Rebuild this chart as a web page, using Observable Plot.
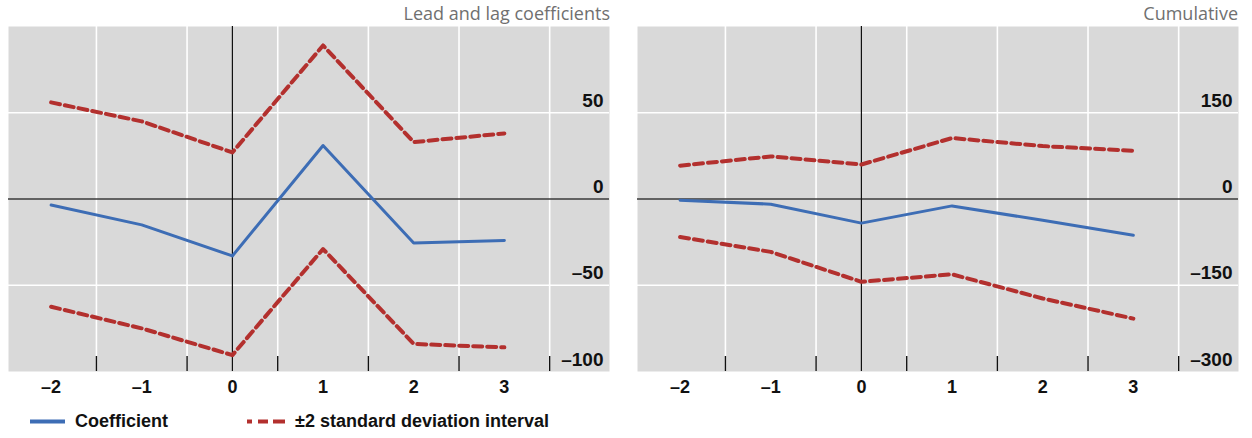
<!DOCTYPE html>
<html><head><meta charset="utf-8">
<script src="https://cdn.jsdelivr.net/npm/d3@7"></script>
<script src="https://cdn.jsdelivr.net/npm/@observablehq/plot@0.6"></script>
<style>
body{margin:0;background:#fff;}
#wrap{position:relative;width:1252px;height:438px;overflow:hidden;font-family:"Liberation Sans",Arial,sans-serif;}
.title{position:absolute;top:4px;font-family:"Open Sans",sans-serif;font-size:18px;line-height:18px;color:#707070;white-space:nowrap;}
.leg{position:absolute;top:412px;font-size:18px;line-height:18px;font-weight:bold;color:#111;white-space:nowrap;}
.panel{position:absolute;top:0;}
</style></head>
<body><div id="wrap">
<div class="title" style="right:642px">Lead and lag coefficients</div>
<div class="title" style="right:14px">Cumulative</div>
<div id="left" class="panel" style="left:0"></div>
<div id="right" class="panel" style="left:620px"></div>
<svg style="position:absolute;left:0;top:410px" width="300" height="24">
  <line x1="30" x2="65" y1="11.5" y2="11.5" stroke="#3d6db5" stroke-width="4"/>
  <line x1="247" x2="285" y1="11.5" y2="11.5" stroke="#b3302e" stroke-width="4" stroke-dasharray="5 6 10 5 12"/>
</svg>
<div class="leg" style="left:75px">Coefficient</div>
<div class="leg" style="left:295px">±2 standard deviation interval</div>
</div>
<script>
const lags = [-2, -1, 0, 1, 2, 3];
const leadLagCoef  = [-3.5, -15, -33, 31, -25.5, -24];
const leadLagUpper = [56, 45, 27, 89, 33, 38];
const leadLagLower = [-62.5, -75, -90.5, -29, -84, -86];
const cumCoef  = [-2, -9, -42, -12, -37, -63];
const cumUpper = [58, 74, 60, 106, 92, 84];
const cumLower = [-66, -92, -144, -131, -173, -208];
const xTicks = [-2, -1, 0, 1, 2, 3];
const xGrid = [-1.5, -0.5, 0.5, 1.5, 2.5, 3.5];
const leftYTicks = [50, 0, -50, -100];
const rightYTicks = [150, 0, -150, -300];
const leftYGrid = [50, -50];
const rightYGrid = [150, -150];
const leftYDomain = [-100, 100];
const rightYDomain = [-300, 300];
const xDomain = [-2.47, 4.16];

const BLUE = "#3d6db5", RED = "#b3302e";
const fmt = d => d < 0 ? "\u2013" + Math.abs(d) : String(d);
const rows = (vals) => lags.map((x, i) => ({x, y: vals[i]}));

function panel({coef, upper, lower, yDomain, yTicks, yGrid, marginLeft, marginRight, width}) {
  const plotH = 345;
  return Plot.plot({
    width, height: 401,
    marginLeft, marginRight, marginTop: 26, marginBottom: 30,
    style: {fontFamily: "'Liberation Sans', Arial, sans-serif", background: "transparent"},
    x: {domain: xDomain},
    y: {domain: yDomain, axis: null},
    marks: [
      Plot.frame({fill: "#d9d9d9", stroke: null}),
      Plot.ruleX(xGrid, {stroke: "#fff", strokeWidth: 1.6}),
      Plot.ruleY(yGrid, {stroke: "#fff", strokeWidth: 1.6}),
      Plot.ruleX(xGrid, {stroke: "#111", strokeWidth: 1.4, insetTop: plotH - 15}),
      Plot.ruleY([0], {stroke: "#3a3a3a", strokeWidth: 1.6}),
      Plot.ruleX([0], {stroke: "#111", strokeWidth: 1.2}),
      Plot.line(rows(upper), {x: "x", y: "y", stroke: RED, strokeWidth: 4, strokeDasharray: "9 5"}),
      Plot.line(rows(lower), {x: "x", y: "y", stroke: RED, strokeWidth: 4, strokeDasharray: "9 5"}),
      Plot.line(rows(coef), {x: "x", y: "y", stroke: BLUE, strokeWidth: 3}),
      Plot.text(yTicks, {y: d => d, text: fmt, frameAnchor: "right", textAnchor: "end", dx: -6, dy: -12,
        fontSize: 19, fontWeight: "bold", fill: "#111"}),
      Plot.axisX(xTicks, {tickSize: 0, tickPadding: 9, tickFormat: fmt, fontSize: 18, fontWeight: "bold", fill: "#111", label: null})
    ]
  });
}

document.getElementById("left").append(panel({
  coef: leadLagCoef, upper: leadLagUpper, lower: leadLagLower,
  yDomain: leftYDomain, yTicks: leftYTicks, yGrid: leftYGrid,
  marginLeft: 8, marginRight: 11, width: 620
}));
document.getElementById("right").append(panel({
  coef: cumCoef, upper: cumUpper, lower: cumLower,
  yDomain: rightYDomain, yTicks: rightYTicks, yGrid: rightYGrid,
  marginLeft: 17, marginRight: 14, width: 632
}));
</script>
</body></html>
